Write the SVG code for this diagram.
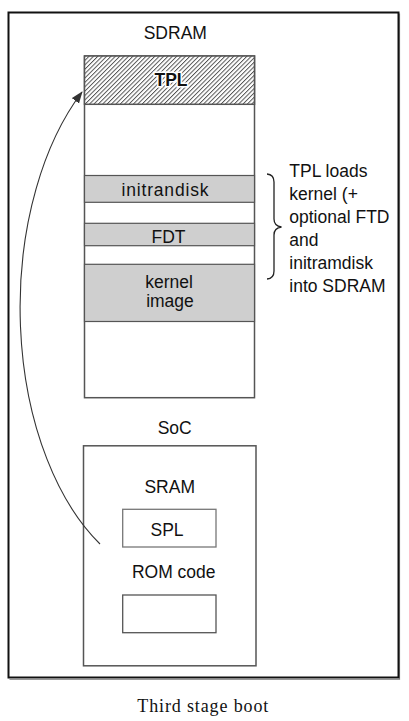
<svg xmlns="http://www.w3.org/2000/svg" width="409" height="721" viewBox="0 0 409 721">
  <style>
    .t { font-family: "Liberation Sans", Arial, sans-serif; font-size: 17.5px; fill: #111; }
    .mid { text-anchor: middle; }
    .box { fill: #fff; stroke: #555; stroke-width: 1.5; }
    .seg { fill: #cfcfcf; stroke: #555; stroke-width: 1.2; }
    .div { stroke: #555; stroke-width: 1.2; }
  </style>
  <defs>
    <pattern id="hatch" patternUnits="userSpaceOnUse" width="3.1" height="10" patternTransform="rotate(45)">
      <rect width="3.1" height="10" fill="#fff"/>
      <line x1="0.5" y1="0" x2="0.5" y2="10" stroke="#444" stroke-width="0.9"/>
    </pattern>
    <marker id="arrow" markerWidth="12" markerHeight="10" refX="11" refY="4.5" orient="auto" markerUnits="userSpaceOnUse">
      <path d="M0,0 L12,4.5 L0,9 Z" fill="#333"/>
    </marker>
  </defs>

  <rect width="409" height="721" fill="#fff"/>

  <g id="frame">
    <polyline points="399.5,13.5 399.5,679.5 9.5,679.5" fill="none" stroke="#999" stroke-width="1.2"/>
    <rect x="8.5" y="12.5" width="390" height="665" fill="none" stroke="#111" stroke-width="2"/>
  </g>

  <g id="sdram">
    <text class="t mid" x="175.3" y="39.3">SDRAM</text>
    <rect class="box" x="84.5" y="56" width="170" height="341.7"/>
  </g>

  <g id="tpl">
    <rect x="84.5" y="56" width="170" height="48.3" fill="url(#hatch)" stroke="#555" stroke-width="1.5"/>
    <text class="t mid" x="171" y="86" font-weight="bold" stroke="#fff" stroke-width="3" paint-order="stroke" fill="#111">TPL</text>
  </g>

  <g id="initrandisk">
    <rect class="seg" x="84.5" y="175.5" width="170" height="26.8"/>
    <text class="t mid" x="165" y="195.5" textLength="87">initrandisk</text>
  </g>

  <g id="fdt">
    <rect class="seg" x="84.5" y="223.3" width="170" height="22.4"/>
    <text class="t mid" x="168.5" y="243">FDT</text>
  </g>

  <g id="kernel-image">
    <rect class="seg" x="84.5" y="264.3" width="170" height="57.2"/>
    <text class="t mid" x="169" y="288.3">kernel</text>
    <text class="t mid" x="170" y="306.5">image</text>
  </g>

  <g id="brace">
    <path d="M267,174 Q274,174.5 274,182 L274,219 Q274,226 281.5,227 Q274,228 274,235 L274,271 Q274,278.5 267,279" fill="none" stroke="#222" stroke-width="1.3"/>
  </g>

  <g id="note">
    <text class="t" x="289.3" y="177">TPL loads</text>
    <text class="t" x="289.3" y="200">kernel (+</text>
    <text class="t" x="289.3" y="223">optional FTD</text>
    <text class="t" x="289.3" y="246">and</text>
    <text class="t" x="289.3" y="269">initramdisk</text>
    <text class="t" x="289.3" y="292">into SDRAM</text>
  </g>

  <g id="soc">
    <text class="t mid" x="174.7" y="434">SoC</text>
    <rect class="box" x="83.5" y="445.8" width="172.5" height="220"/>
    <text class="t mid" x="169.7" y="493">SRAM</text>
  </g>

  <g id="spl">
    <rect x="122.7" y="509.3" width="93.3" height="37.7" fill="#fff" stroke="#777" stroke-width="1.3"/>
    <text class="t mid" x="167" y="536">SPL</text>
  </g>

  <g id="rom">
    <text class="t mid" x="173.7" y="578">ROM code</text>
    <rect x="122.7" y="595" width="93.3" height="37.7" fill="#fff" stroke="#555" stroke-width="1.3"/>
  </g>

  <g id="connectors">
    <path d="M100,544 A160,273 0 0 1 82,92" fill="none" stroke="#333" stroke-width="1.1" marker-end="url(#arrow)"/>
  </g>

  <text x="137.3" y="711.7" font-family="'Liberation Serif', 'Times New Roman', serif" font-size="18" fill="#111" textLength="131">Third stage boot</text>
</svg>
